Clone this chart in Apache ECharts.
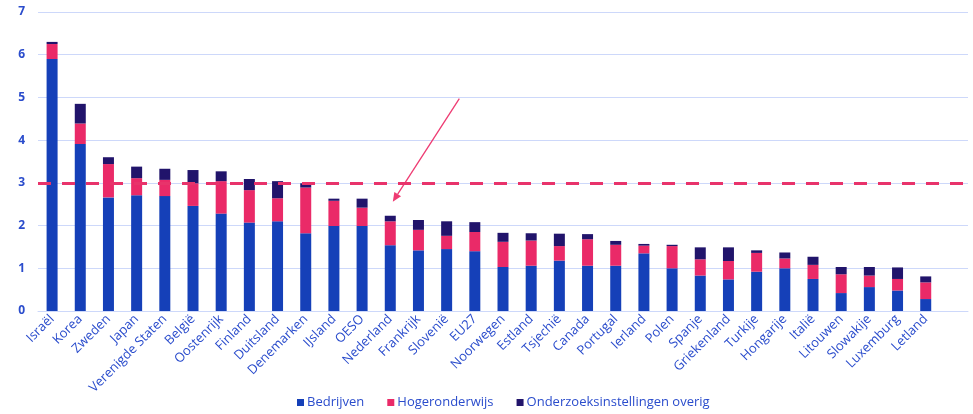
<!DOCTYPE html>
<html>
<head>
<meta charset="utf-8">
<script src="https://cdn.jsdelivr.net/npm/echarts@6/dist/echarts.min.js"></script>
<style>html,body{margin:0;padding:0;background:#fff}#c{width:973px;height:414px}</style>
</head>
<body>
<div id="c"></div>
<script>
const categories = ['Israël','Korea','Zweden','Japan','Verenigde Staten','België','Oostenrijk','Finland','Duitsland','Denemarken','IJsland','OESO','Nederland','Frankrijk','Slovenië','EU27','Noorwegen','Estland','Tsjechië','Canada','Portugal','Ierland','Polen','Spanje','Griekenland','Turkije','Hongarije','Italië','Litouwen','Slowakije','Luxemburg','Letland'];
const bedrijven = [5.90,3.91,2.66,2.71,2.69,2.46,2.28,2.07,2.10,1.82,1.99,1.99,1.54,1.42,1.45,1.40,1.03,1.06,1.18,1.06,1.06,1.35,1.00,0.83,0.74,0.92,1.00,0.75,0.42,0.56,0.48,0.28];
const hogeronderwijs = [0.35,0.48,0.78,0.40,0.38,0.53,0.76,0.76,0.54,1.07,0.59,0.43,0.56,0.48,0.31,0.45,0.59,0.59,0.34,0.62,0.49,0.18,0.52,0.38,0.43,0.44,0.23,0.33,0.44,0.27,0.27,0.39];
const overig = [0.05,0.46,0.16,0.27,0.26,0.31,0.23,0.26,0.40,0.10,0.05,0.21,0.13,0.23,0.34,0.23,0.21,0.17,0.29,0.12,0.09,0.04,0.03,0.28,0.32,0.06,0.14,0.19,0.17,0.20,0.27,0.14];
const yTicks = [0,1,2,3,4,5,6,7];
const targetLine = 3;
// annotation arrow: [category position (fractional index), value]
const arrowFrom = [14.45, 4.97];
const arrowTo = [12.09, 2.56];

const blue = '#1540b8', pink = '#ea2a68', navy = '#21146b', txt = '#2a4ccc', gridC = '#cdd8fa';
const chart = echarts.init(document.getElementById('c'));
const font = '"Open Sans", Lato, sans-serif';
chart.setOption({
  animation: false,
  textStyle: {fontFamily: font},
  grid: {left: 38, right: 5, top: 12, bottom: 103},
  legend: {
    bottom: 0, left: 292, icon: 'rect', itemWidth: 7, itemHeight: 7, itemGap: 23,
    textStyle: {color: txt, fontSize: 13, fontFamily: font, padding: [0,0,0,-2]},
    data: ['Bedrijven','Hogeronderwijs','Onderzoeksinstellingen overig']
  },
  xAxis: {
    type: 'category', data: categories, max: categories.length,
    axisLine: {show: true, lineStyle: {color: gridC}}, axisTick: {show: false},
    axisLabel: {rotate: 45, interval: 0, color: txt, fontSize: 13, margin: 6, fontFamily: font}
  },
  yAxis: {
    type: 'value', min: yTicks[0], max: yTicks[yTicks.length-1], interval: 1,
    axisLine: {show: false}, axisTick: {show: false},
    axisLabel: {color: txt, fontSize: 12, fontWeight: 'bold', margin: 13, fontFamily: font},
    splitLine: {lineStyle: {color: gridC, width: 1}}
  },
  series: [
    {name: 'Bedrijven', type: 'bar', stack: 't', data: bedrijven, barWidth: 11, itemStyle: {color: blue},
     markLine: {silent: true, symbol: 'none', label: {show: false},
       lineStyle: {color: '#e8336b', width: 3, type: [13, 11]}, data: [{yAxis: targetLine}]}},
    {name: 'Hogeronderwijs', type: 'bar', stack: 't', data: hogeronderwijs, barWidth: 11, itemStyle: {color: pink}},
    {name: 'Onderzoeksinstellingen overig', type: 'bar', stack: 't', data: overig, barWidth: 11, itemStyle: {color: navy}}
  ]
});

function toPx(pt) {
  const i = Math.floor(pt[0]), f = pt[0] - i;
  const x0 = chart.convertToPixel({xAxisIndex: 0}, i);
  const x1 = chart.convertToPixel({xAxisIndex: 0}, i + 1);
  const y = chart.convertToPixel({yAxisIndex: 0}, pt[1]);
  return [x0 + f * (x1 - x0), y];
}
const p0 = toPx(arrowFrom), p1 = toPx(arrowTo);
const dx = p1[0] - p0[0], dy = p1[1] - p0[1], L = Math.hypot(dx, dy);
const ux = dx / L, uy = dy / L, hl = 9, hw = 4;
const bx = p1[0] - ux * hl, by = p1[1] - uy * hl;
chart.setOption({
  graphic: [
    {type: 'line', shape: {x1: p0[0], y1: p0[1], x2: bx, y2: by}, style: {stroke: '#ee3b72', lineWidth: 1.3}, silent: true},
    {type: 'polygon', shape: {points: [[p1[0], p1[1]], [bx - uy * hw, by + ux * hw], [bx + uy * hw, by - ux * hw]]}, style: {fill: '#ee3b72'}, silent: true}
  ]
});
</script>
</body>
</html>
